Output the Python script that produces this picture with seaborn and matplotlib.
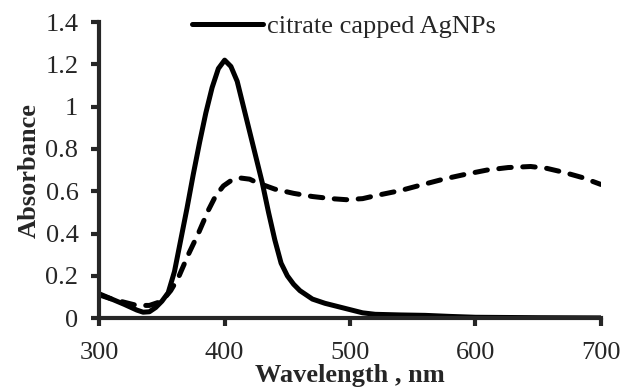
import numpy as np
import pandas as pd
import matplotlib
matplotlib.use('Agg')
import matplotlib.pyplot as plt
import seaborn as sns

# solid curve (citrate capped AgNPs)
wl_solid = [300, 310, 320, 330, 335, 340, 345, 350, 355, 360, 365, 370, 375, 380,
            385, 390, 395, 400, 405, 410, 415, 420, 425, 430, 435, 440, 445, 450,
            455, 460, 470, 480, 490, 500, 510, 520, 540, 560, 580, 600, 650, 700]
abs_solid = [0.115, 0.09, 0.065, 0.038, 0.028, 0.03, 0.05, 0.08, 0.12, 0.22, 0.37, 0.52,
             0.68, 0.83, 0.97, 1.09, 1.18, 1.22, 1.19, 1.12, 1.00, 0.88, 0.76, 0.64,
             0.50, 0.37, 0.26, 0.20, 0.16, 0.13, 0.09, 0.07, 0.055, 0.04, 0.025, 0.018,
             0.015, 0.013, 0.008, 0.004, 0.002, 0.001]

# dashed curve
wl_dash = [300, 310, 320, 330, 340, 350, 357, 363, 371, 379, 387, 393, 399, 405, 412,
           420, 426, 440, 455, 470, 485, 497, 510, 521, 540, 557, 575, 592, 609, 626,
           644, 657, 670, 685, 700]
abs_dash = [0.11, 0.09, 0.075, 0.06, 0.06, 0.08, 0.13, 0.19, 0.30, 0.40, 0.51, 0.58,
            0.625, 0.65, 0.663, 0.657, 0.64, 0.61, 0.59, 0.575, 0.565, 0.56, 0.565,
            0.58, 0.603, 0.63, 0.658, 0.68, 0.70, 0.712, 0.717, 0.708, 0.69, 0.665, 0.632]

legend_label = 'citrate capped AgNPs'

sns.set_style('ticks')
plt.rcParams['font.family'] = ['Liberation Serif', 'DejaVu Serif']
plt.rcParams['font.size'] = 19

fig = plt.figure(figsize=(6.24, 3.87), dpi=100)
ax = fig.add_axes([0.159, 0.178, 0.804, 0.765])

df_s = pd.DataFrame({'wl': wl_solid, 'abs': abs_solid})
df_d = pd.DataFrame({'wl': wl_dash, 'abs': abs_dash})

sns.lineplot(data=df_s, x='wl', y='abs', ax=ax, color='black', lw=3.6,
             label=legend_label, solid_capstyle='round')
sns.lineplot(data=df_d, x='wl', y='abs', ax=ax, color='black', lw=3.6,
             dashes=False, linestyle=(0, (2.5, 2.3)), dash_capstyle='round')

ax.set_xlim(300, 700)
ax.set_ylim(0, 1.4)
ax.set_xticks([300, 400, 500, 600, 700])
ax.set_yticks([0, 0.2, 0.4, 0.6, 0.8, 1.0, 1.2, 1.4])
ax.set_yticklabels(['0', '0.2', '0.4', '0.6', '0.8', '1', '1.2', '1.4'])

for s in ['top', 'right']:
    ax.spines[s].set_visible(False)
for s in ['left', 'bottom']:
    ax.spines[s].set_linewidth(3)
ax.tick_params(direction='out', length=5.5, width=3, labelsize=19)
ax.tick_params(axis='y', pad=9.5)
ax.tick_params(axis='x', pad=11.5)

ax.set_xlabel('Wavelength , nm', fontweight='bold', fontsize=19, labelpad=0.5)
ax.set_ylabel('Absorbance', fontweight='bold', fontsize=19, labelpad=3)

ax.legend(loc='center', bbox_to_anchor=(0.488, 0.985), frameon=False,
          handlelength=2.7, handletextpad=0.15, borderpad=0, fontsize=19)

fig.savefig('out.png', dpi=100)
